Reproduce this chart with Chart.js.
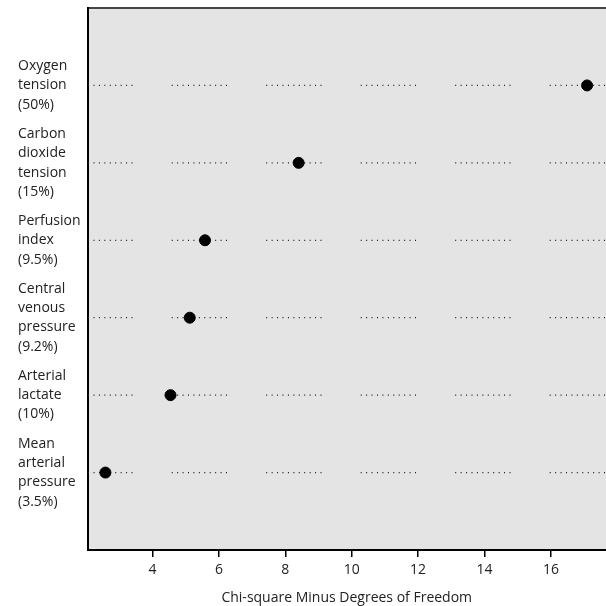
<!DOCTYPE html>
<html>
<head>
<meta charset="utf-8">
<script src="https://cdn.jsdelivr.net/npm/chart.js@4"></script>
<style>
  html, body { margin: 0; padding: 0; background: #fff; }
  canvas { display: block; }
</style>
</head>
<body>
<canvas id="chart" width="606" height="606"></canvas>
<script>
// data
const categories = [
    ['Oxygen', 'tension', '(50%)'],
    ['Carbon', 'dioxide', 'tension', '(15%)'],
    ['Perfusion', 'index', '(9.5%)'],
    ['Central', 'venous', 'pressure', '(9.2%)'],
    ['Arterial', 'lactate', '(10%)'],
    ['Mean', 'arterial', 'pressure', '(3.5%)']
];
const chiSquareMinusDf = [17.09, 8.40, 5.58, 5.12, 4.54, 2.58];
const xTicks = [4, 6, 8, 10, 12, 14, 16];
const xMin = 2.04;
const xMax = 17.66;

// dotted guide: 11 dots then a gap
const dash = [];
for (let i = 0; i < 10; i++) { dash.push(1, 4.43); }
dash.push(1, 39.2);

const guideSets = categories.map((c, i) => ({
    type: 'line',
    data: [{ x: xMin, y: i + 1 }, { x: xMax, y: i + 1 }],
    borderColor: '#1a1a1a',
    borderWidth: 1.2,
    borderDash: dash,
    borderDashOffset: 10.3,
    pointRadius: 0,
    order: 2
}));

const plotBg = {
    id: 'plotBg',
    beforeDraw(chart) {
        const a = chart.chartArea;
        const ctx = chart.ctx;
        ctx.save();
        ctx.fillStyle = '#e4e4e4';
        ctx.fillRect(a.left, a.top, a.right - a.left, a.bottom - a.top);
        ctx.strokeStyle = '#444';
        ctx.lineWidth = 2;
        ctx.beginPath();
        ctx.moveTo(a.left, a.top);
        ctx.lineTo(a.right, a.top);
        ctx.stroke();
        ctx.restore();
    }
};

new Chart(document.getElementById('chart').getContext('2d'), {
    type: 'scatter',
    data: {
        datasets: guideSets.concat([{
            data: chiSquareMinusDf.map((v, i) => ({ x: v, y: i + 1 })),
            backgroundColor: '#000',
            borderColor: '#000',
            pointRadius: 5.5,
            pointHoverRadius: 5.5,
            order: 1
        }])
    },
    options: {
        responsive: false,
        animation: false,
        layout: { autoPadding: false, padding: { top: 8, right: 0, left: 18, bottom: 0 } },
        plugins: { legend: { display: false }, tooltip: { enabled: false } },
        scales: {
            x: {
                type: 'linear',
                min: xMin,
                max: xMax,
                afterBuildTicks: (s) => { s.ticks = xTicks.map(v => ({ value: v })); },
                afterFit: (s) => { s.height = 56; s.paddingLeft = 0; s.paddingRight = 0; },
                grid: { drawOnChartArea: false, drawTicks: true, tickLength: 7, color: '#000', lineWidth: 1.5 },
                border: { color: '#000', width: 2 },
                ticks: { color: '#222', padding: 5, font: { family: 'Open Sans', size: 14 } },
                title: {
                    display: true,
                    text: 'Chi-square Minus Degrees of Freedom',
                    color: '#222',
                    padding: { top: 0, bottom: 0 },
                    font: { family: 'Open Sans', size: 14 }
                }
            },
            y: {
                type: 'linear',
                reverse: true,
                min: 0,
                max: 7,
                afterBuildTicks: (s) => { s.ticks = categories.map((c, i) => ({ value: i + 1 })); },
                afterFit: (s) => { s.width = 69.5; s.paddingTop = 0; s.paddingBottom = 0; },
                grid: { display: false },
                border: { color: '#000', width: 2 },
                ticks: {
                    color: '#222',
                    crossAlign: 'far',
                    font: { family: 'Open Sans', size: 14, lineHeight: 1.38 },
                    callback: (v) => categories[v - 1] || ''
                }
            }
        }
    },
    plugins: [plotBg]
});
</script>
</body>
</html>
